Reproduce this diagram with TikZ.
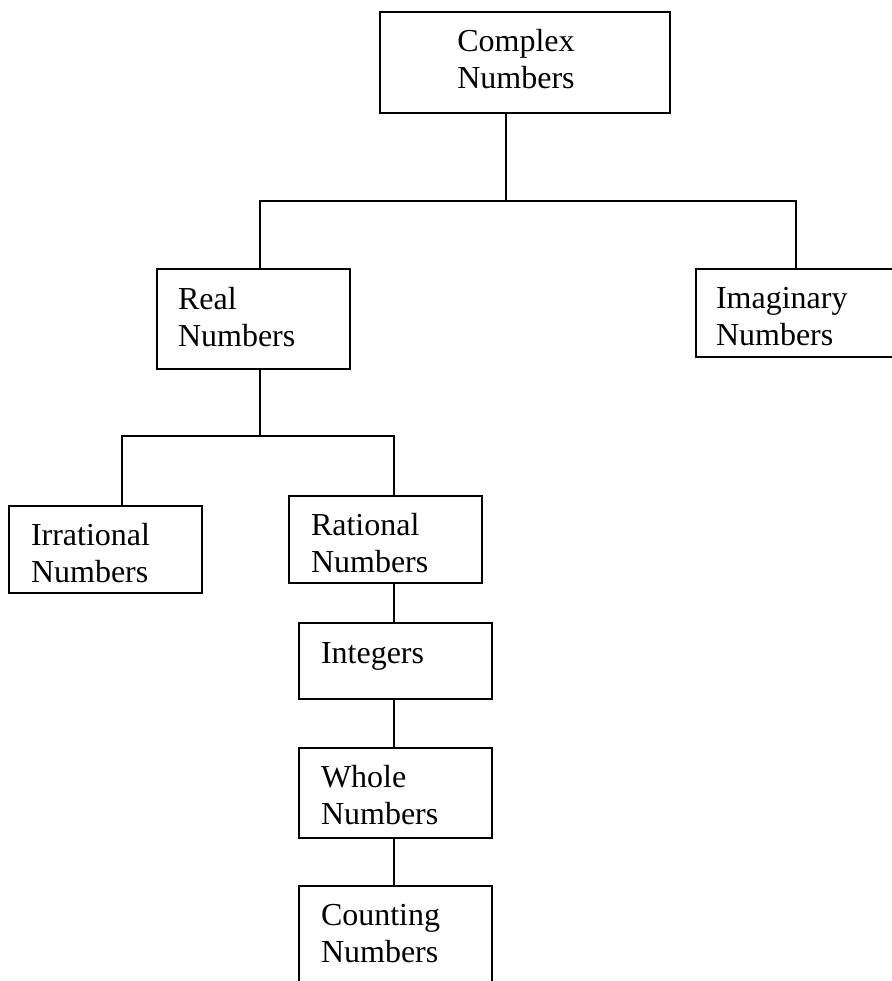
\documentclass[tikz,border=0pt]{standalone}
\usepackage{fontspec}
\setmainfont{Liberation Serif}
\begin{document}
\begin{tikzpicture}[x=1pt,y=-1pt,
  box/.style={draw, line width=1.3pt, rectangle, inner sep=0pt, outer sep=0pt, anchor=north west},
  lbl/.style={inner sep=0pt, outer sep=0pt, align=left, anchor=north west, font=\fontsize{32}{37}\selectfont},
  lblc/.style={lbl, align=center, anchor=north},
  conn/.style={line width=1.3pt, line cap=rect}]
\useasboundingbox (0,0) rectangle (891,981);
% boxes
\node[box, minimum width=290pt, minimum height=101pt] (complex) at (380,12) {};
\node[box, minimum width=193pt, minimum height=100pt] (real) at (157,269) {};
\node[box, minimum width=200pt, minimum height=88pt] (imag) at (696,269) {};
\node[box, minimum width=193pt, minimum height=87pt] (irr) at (9,506) {};
\node[box, minimum width=193pt, minimum height=87pt] (rat) at (289,496) {};
\node[box, minimum width=193pt, minimum height=76pt] (int) at (299,623) {};
\node[box, minimum width=193pt, minimum height=90pt] (whole) at (299,748) {};
\node[box, minimum width=193pt, minimum height=110pt] (count) at (299,886) {};
% texts
\node[lblc] (complexT) at (516,26.1) {\strut Complex\\Numbers};
\node[lbl] (realT) at (178,283.1) {\strut Real\\Numbers};
\node[lbl] (imagT) at (716,282.1) {\strut Imaginary\\Numbers};
\node[lbl] (irrT) at (31,519.1) {\strut Irrational\\Numbers};
\node[lbl] (ratT) at (311,509.1) {\strut Rational\\Numbers};
\node[lbl] (intT) at (321,637.1) {\strut Integers};
\node[lbl] (wholeT) at (321,761.1) {\strut Whole\\Numbers};
\node[lbl] (countT) at (321,899.1) {\strut Counting\\Numbers};
% junctions
\coordinate (j1) at (506,201);
\coordinate (j2) at (260,436);
\coordinate (ix) at (796,0);
\coordinate (irx) at (122,0);
\coordinate (rx) at (394,0);
% connectors
\draw[conn] (j1 |- complex.south) -- (j1);
\draw[conn] (real.north -| j2) -- (j2 |- j1) -- (ix |- j1) -- (ix |- imag.north);
\draw[conn] (real.south -| j2) -- (j2);
\draw[conn] (irx |- irr.north) -- (irx |- j2) -- (rx |- j2) -- (rx |- rat.north);
\draw[conn] (rx |- rat.south) -- (rx |- int.north);
\draw[conn] (rx |- int.south) -- (rx |- whole.north);
\draw[conn] (rx |- whole.south) -- (rx |- count.north);
\end{tikzpicture}
\end{document}
